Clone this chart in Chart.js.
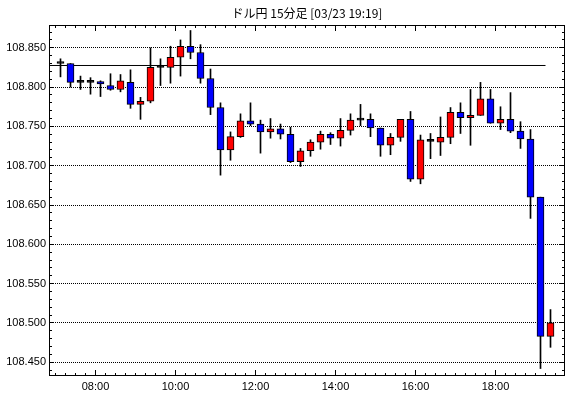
<!DOCTYPE html>
<html>
<head>
<meta charset="utf-8">
<script src="https://cdn.jsdelivr.net/npm/chart.js@4.4.1/dist/chart.umd.min.js"></script>
<style>body{margin:0;background:#fff}</style>
</head>
<body>
<canvas id="chart" width="570" height="398"></canvas>
<script>
// ドル円 15分足
const titleText = 'ドル円 15分足 [03/23 19:19]';

const times = ['07:00','07:15','07:30','07:45','08:00','08:15','08:30','08:45','09:00','09:15',
    '09:30','09:45','10:00','10:15','10:30','10:45','11:00','11:15','11:30','11:45',
    '12:00','12:15','12:30','12:45','13:00','13:15','13:30','13:45','14:00','14:15',
    '14:30','14:45','15:00','15:15','15:30','15:45','16:00','16:15','16:30','16:45',
    '17:00','17:15','17:30','17:45','18:00','18:15','18:30','18:45','19:00','19:15'];

const opens = [108.830, 108.830, 108.806, 108.806, 108.807, 108.802, 108.797, 108.806, 108.778, 108.782,
    108.825, 108.825, 108.838, 108.852, 108.844, 108.811, 108.774, 108.720, 108.737, 108.757,
    108.753, 108.743, 108.747, 108.740, 108.705, 108.719, 108.730, 108.740, 108.735, 108.745,
    108.758, 108.759, 108.748, 108.726, 108.736, 108.759, 108.683, 108.731, 108.730, 108.736,
    108.768, 108.761, 108.764, 108.785, 108.754, 108.759, 108.744, 108.734, 108.660, 108.483];
const highs = [108.836, 108.830, 108.814, 108.812, 108.808, 108.817, 108.816, 108.822, 108.787, 108.850,
    108.836, 108.852, 108.860, 108.872, 108.854, 108.823, 108.780, 108.743, 108.766, 108.780,
    108.758, 108.760, 108.753, 108.749, 108.722, 108.733, 108.744, 108.742, 108.760, 108.766,
    108.778, 108.766, 108.748, 108.741, 108.759, 108.769, 108.739, 108.741, 108.762, 108.774,
    108.780, 108.797, 108.806, 108.797, 108.775, 108.793, 108.756, 108.746, 108.660, 108.517];
const lows = [108.813, 108.800, 108.797, 108.791, 108.788, 108.796, 108.794, 108.773, 108.759, 108.780,
    108.802, 108.805, 108.814, 108.836, 108.805, 108.765, 108.688, 108.707, 108.736, 108.751,
    108.716, 108.735, 108.734, 108.704, 108.699, 108.712, 108.721, 108.727, 108.725, 108.739,
    108.751, 108.737, 108.712, 108.714, 108.731, 108.680, 108.677, 108.709, 108.713, 108.728,
    108.741, 108.726, 108.764, 108.754, 108.746, 108.742, 108.722, 108.633, 108.442, 108.469];
const closes = [108.830, 108.806, 108.806, 108.806, 108.804, 108.797, 108.808, 108.778, 108.782, 108.825,
    108.825, 108.838, 108.852, 108.844, 108.811, 108.774, 108.720, 108.737, 108.757, 108.753,
    108.743, 108.747, 108.740, 108.705, 108.719, 108.730, 108.740, 108.735, 108.745, 108.758,
    108.758, 108.748, 108.726, 108.736, 108.759, 108.683, 108.733, 108.731, 108.736, 108.768,
    108.761, 108.764, 108.785, 108.754, 108.759, 108.744, 108.734, 108.660, 108.483, 108.500];

const refLevel = 108.8275;
const refEnd = '19:15';

const xTickLabels = ['08:00', '10:00', '12:00', '14:00', '16:00', '18:00'];
const yTickValues = [108.45, 108.50, 108.55, 108.60, 108.65, 108.70, 108.75, 108.80, 108.85];

const xMin = 410.25, xMax = 1184.25;
const yMin = 108.4325, yMax = 108.879;

function toMin(t) {
    const [h, m] = t.split(':').map(Number);
    return h * 60 + m;
}

const bodies = times.map((t, i) => ({ x: toMin(t) + 7.5, y: [opens[i], closes[i]] }));
const wicks = times.map((t, i) => ({ x: toMin(t) + 7.5, y: [lows[i], highs[i]] }));

function bodyColor(c) {
    const i = c.dataIndex;
    if (closes[i] > opens[i]) return '#ff0000';
    if (closes[i] < opens[i]) return '#0000ff';
    return '#000000';
}

// 枠と内向きの目盛り
const framePlugin = {
    id: 'frame',
    afterDraw(chart) {
        const { ctx, chartArea: a, scales: { x, y } } = chart;
        ctx.save();
        ctx.strokeStyle = '#000';
        ctx.lineWidth = 1;
        ctx.beginPath();
        for (let v = Math.ceil(xMin / 15) * 15; v <= xMax; v += 15) {
            const px = Math.floor(x.getPixelForValue(v)) + 0.5;
            const len = v % 120 === 0 ? 6 : 3;
            ctx.moveTo(px, a.top); ctx.lineTo(px, a.top + len);
            ctx.moveTo(px, a.bottom); ctx.lineTo(px, a.bottom - len);
        }
        for (let k = Math.ceil(yMin * 100); k <= Math.floor(yMax * 100); k++) {
            const py = Math.floor(y.getPixelForValue(k / 100)) + 0.5;
            const len = k % 5 === 0 ? 5 : 3;
            ctx.moveTo(a.left, py); ctx.lineTo(a.left + len, py);
            ctx.moveTo(a.right, py); ctx.lineTo(a.right - len, py);
        }
        ctx.stroke();
        ctx.strokeRect(a.left + 0.5, a.top + 0.5, a.width - 1, a.height - 1);

        ctx.fillStyle = '#000';
        ctx.font = '12px "Noto Sans CJK JP"';
        ctx.textAlign = 'center';
        ctx.textBaseline = 'middle';
        ctx.fillText(titleText, (a.left + a.right) / 2, 13);
        ctx.restore();
    }
};

new Chart(document.getElementById('chart'), {
    type: 'bar',
    data: {
        datasets: [{
            data: bodies,
            backgroundColor: bodyColor,
            borderColor: '#000',
            borderWidth: 1,
            borderSkipped: false,
            barThickness: 7,
            minBarLength: 2,
            grouped: false
        }, {
            data: wicks,
            backgroundColor: '#000',
            borderWidth: 0,
            barThickness: 1,
            grouped: false
        }, {
            type: 'line',
            data: [{ x: xMin, y: refLevel }, { x: toMin(refEnd), y: refLevel }],
            borderColor: '#000',
            borderWidth: 1,
            pointRadius: 0
        }]
    },
    options: {
        responsive: false,
        animation: false,
        layout: { padding: { top: 25, right: 5, left: 0, bottom: 0 } },
        plugins: { legend: { display: false }, tooltip: { enabled: false } },
        scales: {
            x: {
                type: 'linear',
                min: xMin,
                max: xMax,
                offset: false,
                grid: { display: false, offset: false, drawTicks: false },
                border: { display: false },
                afterBuildTicks: s => { s.ticks = xTickLabels.map(l => ({ value: toMin(l) })); },
                afterFit: s => { s.height = 22; },
                ticks: {
                    autoSkip: false,
                    maxRotation: 0,
                    padding: 4,
                    color: '#000',
                    font: { family: 'Liberation Sans', size: 11 },
                    callback: v => xTickLabels.find(l => toMin(l) === v) || ''
                }
            },
            y: {
                min: yMin,
                max: yMax,
                grid: { color: '#000', lineWidth: 1, drawTicks: false },
                border: { display: false, dash: [1, 1] },
                afterBuildTicks: s => { s.ticks = yTickValues.map(v => ({ value: v })); },
                afterFit: s => { s.width = 49; },
                ticks: {
                    padding: 3,
                    color: '#000',
                    font: { family: 'Liberation Sans', size: 11 },
                    callback: v => v.toFixed(3)
                }
            }
        }
    },
    plugins: [framePlugin]
});
</script>
</body>
</html>
